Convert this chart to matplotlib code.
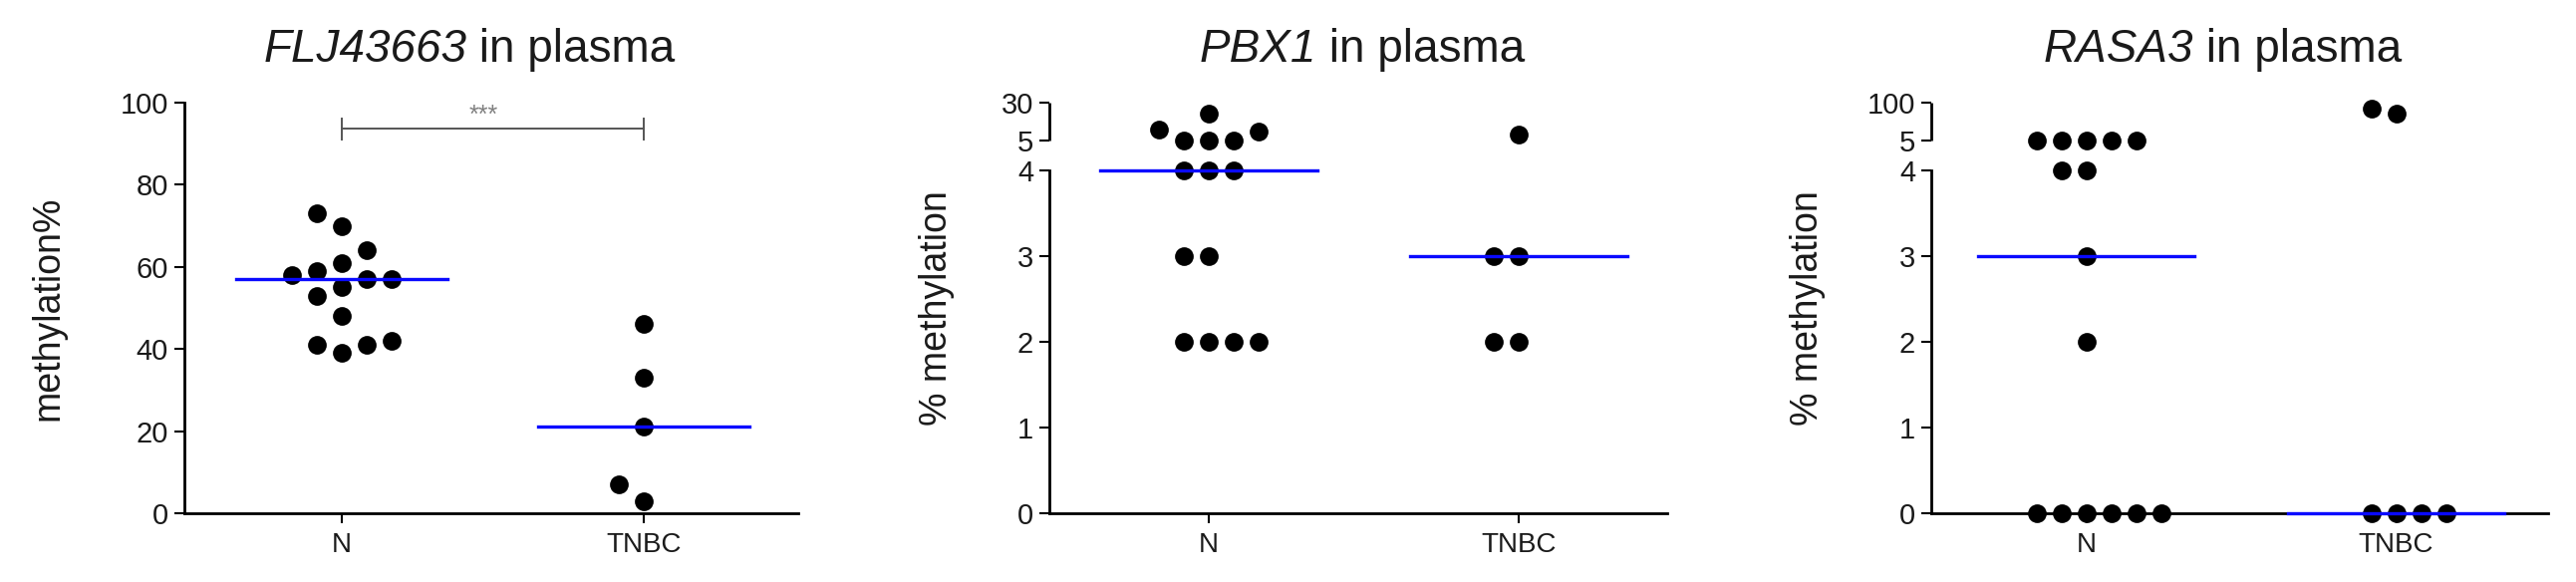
import numpy as np
import matplotlib
matplotlib.use('Agg')
import matplotlib.pyplot as plt
from matplotlib.ticker import FixedLocator

plt.rcParams['font.family'] = ['Liberation Sans', 'DejaVu Sans']

# data (percent methylation in plasma)
groups = ['N', 'TNBC']

flj_n = [73, 70, 64, 61, 59, 58, 57, 57, 55, 53, 48, 42, 41, 41, 39]
flj_tnbc = [46, 33, 21, 7, 3]

pbx1_n = [23, 12, 11, 5, 5, 5, 4, 4, 4, 3, 3, 2, 2, 2, 2]
pbx1_tnbc = [9, 3, 3, 2, 2]

rasa3_n = [5, 5, 5, 5, 5, 4, 4, 3, 2, 0, 0, 0, 0, 0, 0]
rasa3_tnbc = [85, 72, 0, 0, 0, 0]

genes = ['FLJ43663', 'PBX1', 'RASA3']
ylabels = ['methylation%', '% methylation', '% methylation']

W, H = 2585, 584
fig = plt.figure(figsize=(W / 100, H / 100), dpi=100)

AX_TOP, AX_BOT = 103, 515
BLACK = '#000000'
TXT = '#1a1a1a'
BLUE = '#0a0aff'
GAP, UPPER = 0.358, 0.439  # broken axis: size of gap and upper segment (axis units)


def broken_scale(top):
    def fwd(v):
        v = np.asarray(v, dtype=float)
        return np.where(v <= 4, v,
                        np.where(v <= 5, 4 + (v - 4) * GAP,
                                 4 + GAP + (v - 5) / (top - 5) * UPPER))

    def inv(y):
        y = np.asarray(y, dtype=float)
        return np.where(y <= 4, y,
                        np.where(y <= 4 + GAP, 4 + (y - 4) / GAP,
                                 5 + (y - 4 - GAP) / UPPER * (top - 5)))
    return fwd, inv


def swarm(values, fwd, px_per_unit, step_px=25, min_px=22):
    """simple column-scatter layout: offsets in slots, bottom up"""
    vals = np.asarray(values, dtype=float)
    ypx = fwd(vals) * px_per_unit
    slots = np.zeros(len(vals))
    placed = []
    for i in np.argsort(vals, kind='stable'):
        for k in [0, -1, 1, 2, -2, 3, -3, 4, -4]:
            if all(np.hypot((k - s) * step_px, ypx[i] - p) >= min_px for s, p in placed):
                break
        placed.append((k, ypx[i]))
        slots[i] = k
    return slots * step_px


def setup(rect_px, xlim):
    x0, x1 = rect_px
    ax = fig.add_axes([x0 / W, 1 - AX_BOT / H, (x1 - x0) / W, (AX_BOT - AX_TOP) / H])
    ax.set_xlim(*xlim)
    for s in ['top', 'right']:
        ax.spines[s].set_visible(False)
    for s in ['left', 'bottom']:
        ax.spines[s].set_linewidth(2.0)
        ax.spines[s].set_color(BLACK)
    ax.tick_params(axis='both', which='major', direction='out', length=7.5,
                   width=1.5, color=BLACK, labelcolor=TXT)
    ax.tick_params(axis='y', labelsize=21, pad=4)
    ax.tick_params(axis='x', labelsize=20, pad=6)
    ax.set_xticks([0, 1], groups)
    return ax


def draw_groups(ax, data, fwd, px_per_unit, px_per_cat):
    for i, vals in enumerate(data):
        offs = swarm(vals, fwd, px_per_unit) / px_per_cat
        ax.plot(i + offs, vals, 'o', ms=13.5, mew=0, color=BLACK,
                clip_on=False, zorder=4)
        med = np.median(vals)
        ax.plot([i - 0.35, i + 0.35], [med, med], color=BLUE, lw=2.4,
                clip_on=False, zorder=5)


def title(ax, gene, xc):
    r = fig.canvas.get_renderer()
    kw = dict(transform=ax.transAxes, va='baseline', ha='left', fontsize=33, color=TXT)
    t1 = ax.text(0, 1.1, gene, style='italic', **kw)
    t2 = ax.text(0, 1.1, ' in plasma', **kw)
    axw = ax.get_window_extent(r).width
    w1 = t1.get_window_extent(r).width / axw
    w2 = t2.get_window_extent(r).width / axw
    start = xc - (w1 + w2) / 2
    t1.set_x(start)
    t2.set_x(start + w1)


ax_h = AX_BOT - AX_TOP

# ---- panel 1: FLJ43663 ----
rect = (185, 801)
xl = (-0.521, 1.51)
ax = setup(rect, xl)
ax.set_ylim(0, 100)
ax.set_yticks([0, 20, 40, 60, 80, 100])
ident = lambda v: np.asarray(v, dtype=float)
draw_groups(ax, [flj_n, flj_tnbc], ident, ax_h / 100,
            (rect[1] - rect[0]) / (xl[1] - xl[0]))
# significance bracket
yb = 93.6
ax.plot([0, 1], [yb, yb], color='#555555', lw=1.4, clip_on=False)
for xb in [0, 1]:
    ax.plot([xb, xb], [yb - 2.5, yb + 2.5], color='#555555', lw=1.4, clip_on=False)
ax.text(0.47, 95.2, '***', ha='center', va='baseline', fontsize=18, color='#808080')
ax.set_ylabel(ylabels[0], fontsize=27, color=TXT)
ax.yaxis.set_label_coords(-0.193, 0.5)
title(ax, genes[0], 0.464)

# ---- panels 2 and 3: broken y axis ----
broken = [
    ((1053, 1673), (-0.514, 1.48), 30, [pbx1_n, pbx1_tnbc], genes[1], ylabels[1], -0.153, 0.506),
    ((1938, 2557), (-0.50, 1.49), 100, [rasa3_n, rasa3_tnbc], genes[2], ylabels[2], -0.171, 0.472),
]
for rect, xl, top, data, gene, ylab, lab_x, title_x in broken:
    ax = setup(rect, xl)
    fwd, inv = broken_scale(top)
    ax.set_yscale('function', functions=(fwd, inv))
    ax.set_ylim(0, top)
    ticks = [0, 1, 2, 3, 4, 5, top]
    ax.set_yticks(ticks, [str(t) for t in ticks])
    ax.yaxis.set_minor_locator(FixedLocator([4, 5]))
    ax.tick_params(axis='y', which='minor', direction='in', length=7.5,
                   width=1.5, color=BLACK)
    ax.spines['left'].set_bounds(0, 4)
    ax.plot([0, 0], [5, top], transform=ax.get_yaxis_transform(), color=BLACK,
            lw=2.0, clip_on=False, solid_capstyle='butt')
    mapped_top = 4 + GAP + UPPER
    draw_groups(ax, data, fwd, ax_h / mapped_top,
                (rect[1] - rect[0]) / (xl[1] - xl[0]))
    ax.set_ylabel(ylab, fontsize=27, color=TXT)
    ax.yaxis.set_label_coords(lab_x, 0.5)
    title(ax, gene, title_x)

fig.savefig('out.png', dpi=100)
